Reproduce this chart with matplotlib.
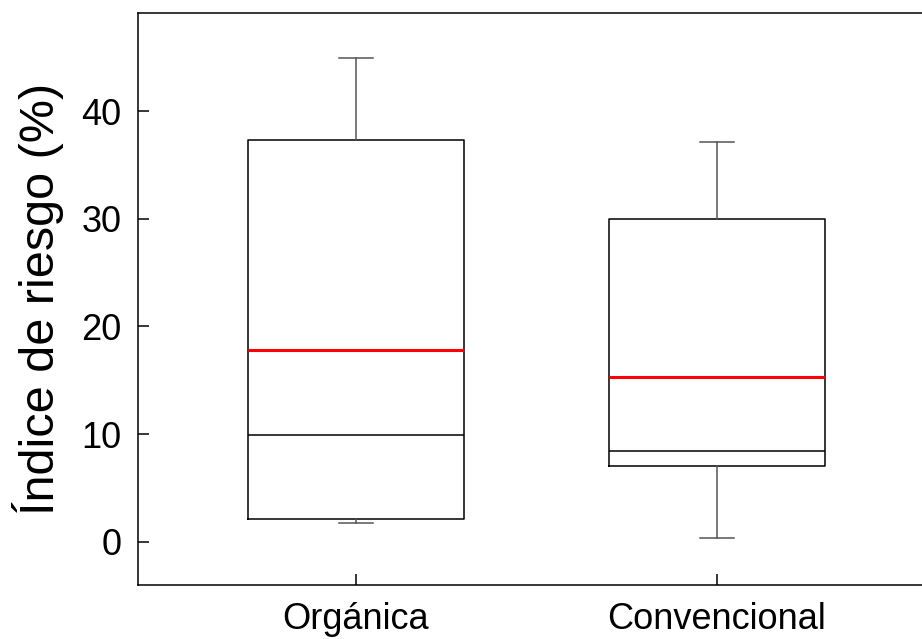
import matplotlib
matplotlib.use("Agg")
import matplotlib.pyplot as plt

plt.rcParams['font.family'] = ['Liberation Sans', 'DejaVu Sans']

categories = ["Orgánica", "Convencional"]
whisker_low = [1.76, 0.37]
q1 = [2.13, 7.05]
medians = [9.93, 8.45]
means = [17.8, 15.3]
q3 = [37.3, 30.0]
whisker_high = [44.9, 37.1]
yticks = [0, 10, 20, 30, 40]

stats = []
for i, name in enumerate(categories):
    stats.append({
        "label": name, "whislo": whisker_low[i], "q1": q1[i], "med": medians[i],
        "q3": q3[i], "whishi": whisker_high[i], "mean": means[i], "fliers": [],
    })

fig = plt.figure(figsize=(9.22, 6.39), dpi=100)
ax = fig.add_axes([138 / 922, 54 / 639, 1 - 138 / 922, 572 / 639])

ax.bxp(stats, positions=[1, 2], widths=0.60, showmeans=True, meanline=True,
       showfliers=False, capwidths=0.092,
       boxprops=dict(color="black", linewidth=1.1),
       medianprops=dict(color="black", linewidth=1.1),
       meanprops=dict(color="red", linewidth=2.2, linestyle="-"),
       whiskerprops=dict(color="#555555", linewidth=1.1),
       capprops=dict(color="#555555", linewidth=1.1))

ax.set_xlim(0.396, 2.568)
ax.set_ylim(-4.0, 49.1)
ax.set_yticks(yticks)
ax.set_xticks([1, 2])
ax.set_xticklabels(categories)
ax.spines["right"].set_visible(False)
for s in ["left", "top", "bottom"]:
    ax.spines[s].set_linewidth(1.1)
ax.tick_params(direction="in", length=8, width=1.1, labelsize=26, pad=12)
ax.tick_params(axis="x", pad=12)
ax.set_ylabel("Índice de riesgo (%)", fontsize=35, labelpad=12)

fig.savefig("out.png", dpi=100)
